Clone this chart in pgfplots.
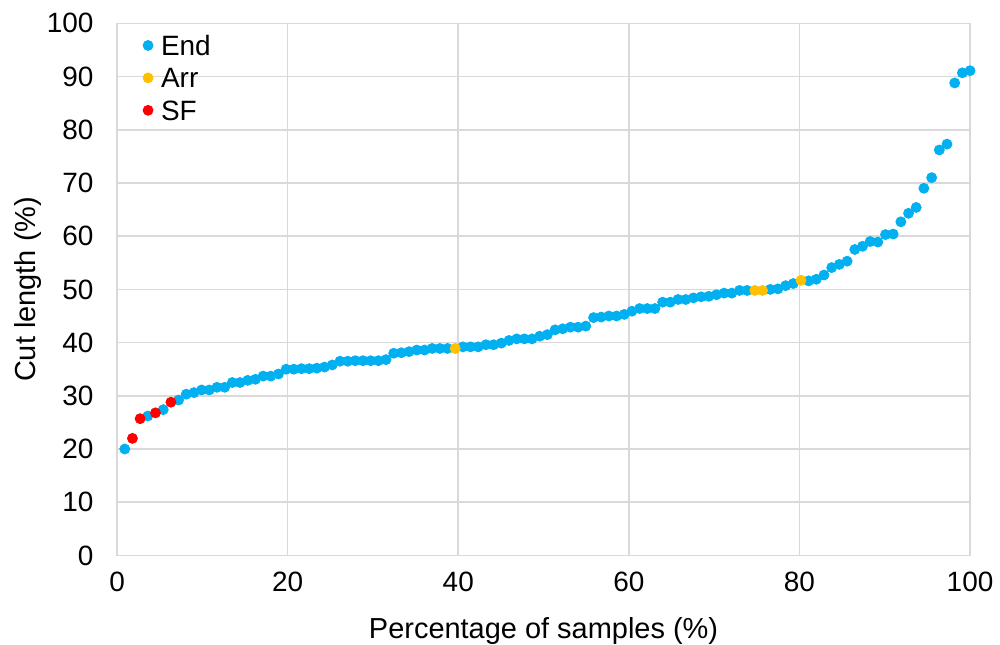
\documentclass[border=0pt]{standalone}
\usepackage{pgfplots}
\pgfplotsset{compat=1.18}
\usepackage{fontspec}
\setmainfont{Liberation Sans}

\definecolor{endblue}{HTML}{00B0F0}
\definecolor{arrorange}{HTML}{FFC000}
\definecolor{sfred}{HTML}{FF0000}
\definecolor{gridgray}{HTML}{D9D9D9}

\begin{document}
\begin{tikzpicture}
\begin{axis}[
    scale only axis,
    width=427.2pt,
    height=266.5pt,
    xmin=0, xmax=100,
    ymin=0, ymax=100,
    xtick={0,20,40,60,80,100},
    ytick={0,10,20,30,40,50,60,70,80,90,100},
    major tick length=0pt,
    grid=major,
    grid style={gridgray, line width=0.8pt},
    axis line style={gridgray, line width=0.8pt},
    /pgf/number format/assume math mode=true,
    tick label style={font=\fontsize{14pt}{16pt}\selectfont, black},
    yticklabel style={xshift=-8.3pt},
    xticklabel style={yshift=-5pt},
    label style={font=\fontsize{14.5pt}{16.5pt}\selectfont, inner sep=0pt},
    xlabel={Percentage of samples (\%)},
    ylabel={Cut length (\%)},
    xlabel style={at={(axis description cs:0.5,-0.1426)}, anchor=center},
    ylabel style={at={(axis description cs:-0.105,0.5)}, anchor=center},
    legend style={at={(axis description cs:0.03,0.978)}, anchor=north west,
                  draw=none, fill=none, inner sep=0pt,
                  font=\fontsize{14pt}{16pt}\selectfont,
                  nodes={inner sep=0pt, text height=10pt, text depth=0pt},
                  row sep=6.25pt},
    legend cell align=left,
    legend image code/.code={\draw[#1] plot coordinates {(0pt,0pt)};
        \path[draw=none, fill=none] (-2.5pt,0pt) rectangle (6.5pt,0pt);},
    mark size=2.5pt,
]

% End
\addplot[only marks, mark=*, color=endblue] coordinates {
    (0.90,20.0) (3.60,26.2) (5.41,27.4) (7.21,29.2) (8.11,30.3) (9.01,30.6)
    (9.91,31.1) (10.81,31.1) (11.71,31.6) (12.61,31.6) (13.51,32.5) (14.41,32.5)
    (15.32,32.9) (16.22,33.1) (17.12,33.7) (18.02,33.7) (18.92,34.1) (19.82,35.0)
    (20.72,35.0) (21.62,35.1) (22.52,35.1) (23.42,35.2) (24.32,35.4) (25.23,35.8)
    (26.13,36.5) (27.03,36.5) (27.93,36.6) (28.83,36.6) (29.73,36.6) (30.63,36.6)
    (31.53,36.8) (32.43,38.0) (33.33,38.1) (34.23,38.3) (35.14,38.6) (36.04,38.6)
    (36.94,38.9) (37.84,38.9) (38.74,38.9) (40.54,39.2) (41.44,39.2) (42.34,39.2)
    (43.24,39.6) (44.14,39.6) (45.05,39.9) (45.95,40.4) (46.85,40.7) (47.75,40.7)
    (48.65,40.7) (49.55,41.2) (50.45,41.5) (51.35,42.4) (52.25,42.6) (53.15,42.9)
    (54.05,42.9) (54.95,43.1) (55.86,44.7) (56.76,44.8) (57.66,45.0) (58.56,45.0)
    (59.46,45.3) (60.36,45.9) (61.26,46.4) (62.16,46.4) (63.06,46.4) (63.96,47.6)
    (64.86,47.6) (65.77,48.1) (66.67,48.1) (67.57,48.4) (68.47,48.6) (69.37,48.7)
    (70.27,49.0) (71.17,49.3) (72.07,49.3) (72.97,49.8) (73.87,49.8) (76.58,50.0)
    (77.48,50.1) (78.38,50.7) (79.28,51.1) (81.08,51.6) (81.98,51.9) (82.88,52.7)
    (83.78,54.1) (84.68,54.7) (85.59,55.3) (86.49,57.5) (87.39,58.1) (88.29,59.0)
    (89.19,58.9) (90.09,60.3) (90.99,60.4) (91.89,62.7) (92.79,64.3) (93.69,65.4)
    (94.59,69.0) (95.50,71.0) (96.40,76.2) (97.30,77.3) (98.20,88.8) (99.10,90.7)
    (100.00,91.1)
};

% Arr
\addplot[only marks, mark=*, color=arrorange] coordinates {
    (39.64,38.9) (74.77,49.8) (75.68,49.8) (80.18,51.7)
};

% SF
\addplot[only marks, mark=*, color=sfred] coordinates {
    (1.80,22.0) (2.70,25.7) (4.50,26.8) (6.31,28.8)
};

\legend{End, Arr, SF}

\end{axis}
% page size matching the reference proportions
\path (current axis.south west) ++(-58.65pt,-44.8pt) coordinate (bbsw);
\path (current axis.north east) ++(14.15pt,11.7pt) coordinate (bbne);
\path (bbsw) rectangle (bbne);
\end{tikzpicture}
\end{document}
